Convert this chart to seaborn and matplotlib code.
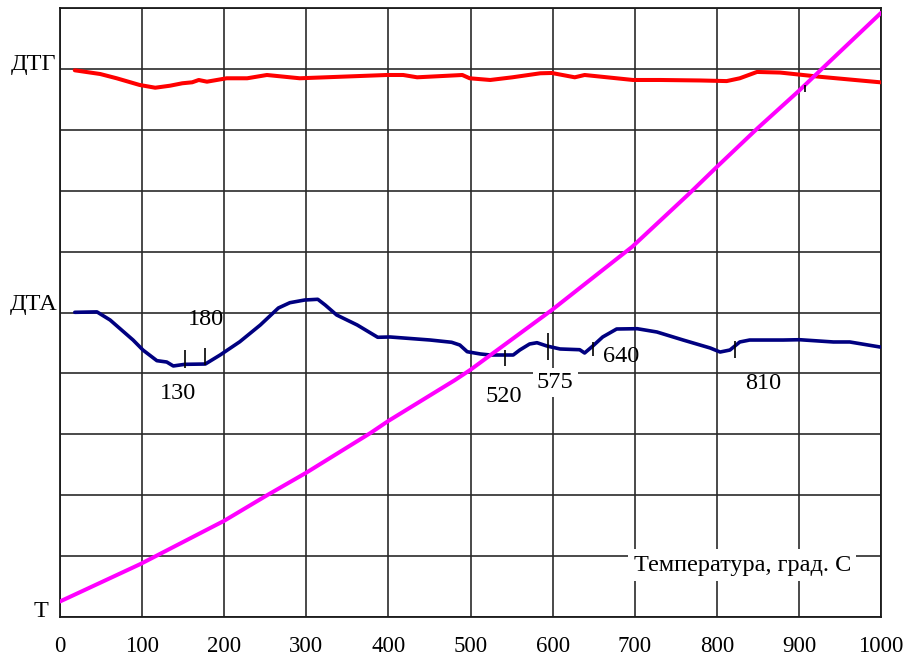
import matplotlib
matplotlib.use("Agg")
import matplotlib.pyplot as plt
import matplotlib.transforms as mtransforms
import seaborn as sns
import pandas as pd

# ---- data ----
dtg_x = [18, 49, 69, 97, 116, 134, 149, 161, 169, 179, 203, 228, 252, 292, 398, 418,
         435, 490, 499, 524, 551, 585, 599, 627, 639, 698, 731, 780, 812, 828, 849,
         877, 926, 999]
dtg_y = [8.977, 8.916, 8.846, 8.736, 8.691, 8.724, 8.764, 8.78, 8.818, 8.79, 8.846,
         8.846, 8.90, 8.846, 8.90, 8.90, 8.862, 8.90, 8.846, 8.818, 8.862, 8.928,
         8.933, 8.862, 8.90, 8.818, 8.818, 8.81, 8.80, 8.846, 8.95, 8.94, 8.87, 8.78]

dta_x = [18, 45, 61, 89, 101, 118, 130, 138, 152, 177, 195, 219, 244, 266, 280, 298,
         314, 323, 337, 362, 387, 402, 451, 477, 487, 496, 512, 524, 552, 560, 572,
         581, 593, 609, 633, 639, 649, 661, 678, 703, 727, 759, 792, 804, 816, 828,
         840, 881, 901, 942, 962, 999]
dta_y = [5.003, 5.01, 4.877, 4.548, 4.384, 4.209, 4.187, 4.122, 4.149, 4.154, 4.302,
         4.52, 4.795, 5.074, 5.161, 5.205, 5.217, 5.123, 4.959, 4.795, 4.593, 4.598,
         4.548, 4.511, 4.466, 4.356, 4.319, 4.302, 4.302, 4.384, 4.483, 4.504, 4.45,
         4.401, 4.389, 4.335, 4.45, 4.598, 4.729, 4.734, 4.68, 4.548, 4.417, 4.351,
         4.384, 4.516, 4.548, 4.548, 4.553, 4.516, 4.516, 4.433]

t_x = [0, 98, 200, 251, 300, 378, 400, 481, 500, 599, 697, 767, 800, 850, 900, 928, 1000]
t_y = [0.255, 0.87, 1.58, 1.99, 2.37, 3.02, 3.22, 3.89, 4.06, 5.04, 6.08, 6.96, 7.39,
       8.03, 8.64, 9.0, 9.92]

# peak marks on the DTA curve
mark_x = [152, 177, 542, 594, 649, 822]
mark_lo = [4.089, 4.138, 4.122, 4.22, 4.286, 4.25]
mark_hi = [4.384, 4.417, 4.384, 4.663, 4.516, 4.53]

peak_labels = ["130", "180", "520", "575", "640", "810"]
peak_lx = [144, 178, 541, 603, 683, 856]
peak_ly = [3.67, 4.877, 3.62, 3.85, 4.28, 3.83]

x_ticks = [0, 100, 200, 300, 400, 500, 600, 700, 800, 900, 1000]
x_ticklabels = ["0", "100", "200", "300", "400", "500", "600", "700", "800", "900", "1000"]
y_grid = list(range(0, 11))

curve_labels = ["ДТГ", "ДТА", "Т"]
curve_label_y = [8.98, 5.04, 0.0]
axis_title = "Температура, град. С"

# ---- style ----
sns.set_style("white")
plt.rcParams["font.family"] = ["Liberation Serif", "DejaVu Serif"]
plt.rcParams["font.size"] = 17
plt.rcParams["text.color"] = "black"
plt.rcParams["xtick.color"] = "black"
plt.rcParams["xtick.labelcolor"] = "black"

fig = plt.figure(figsize=(9.09, 6.59), dpi=100)
ax = fig.add_axes([60 / 909, 1 - 617 / 659, 821 / 909, 609 / 659])

df_dtg = pd.DataFrame({"x": dtg_x, "y": dtg_y})
df_dta = pd.DataFrame({"x": dta_x, "y": dta_y})
df_t = pd.DataFrame({"x": t_x, "y": t_y})

sns.lineplot(data=df_dtg, x="x", y="y", ax=ax, color="#ff0000", lw=2.9, sort=False, zorder=3)
sns.lineplot(data=df_dta, x="x", y="y", ax=ax, color="#000080", lw=2.6, sort=False, zorder=3)
sns.lineplot(data=df_t, x="x", y="y", ax=ax, color="#ff00ff", lw=2.9, sort=False, zorder=4)

ax.vlines(mark_x, mark_lo, mark_hi, colors="black", lw=1.2, zorder=5)
ax.vlines([907], [8.62], [8.74], colors="black", lw=1.2, zorder=5)

ax.set_xlim(0, 1000)
ax.set_ylim(0, 10)
ax.set_xticks(x_ticks)
ax.set_xticklabels(x_ticklabels, fontsize=16.5, color="black")
ax.set_yticks(y_grid)
ax.set_yticklabels([])
ax.tick_params(axis="both", length=0)
ax.tick_params(axis="x", pad=14)
ax.set_xlabel("")
ax.set_ylabel("")
ax.grid(True, color="#2a2a2a", lw=1.2, zorder=1)
ax.set_axisbelow(True)
for sp in ax.spines.values():
    sp.set_color("#1a1a1a")
    sp.set_linewidth(1.3)

for lab, lx, ly in zip(peak_labels, peak_lx, peak_ly):
    kw = {}
    if lab == "575":
        kw["bbox"] = dict(facecolor="white", edgecolor="none", pad=3)
    ax.text(lx, ly, lab, ha="center", va="center", fontsize=17.5, zorder=6, **kw)

ax.text(831, 0.85, axis_title, ha="center", va="center", fontsize=17.5, zorder=6,
        bbox=dict(facecolor="white", edgecolor="none", pad=4))

trans = mtransforms.blended_transform_factory(ax.transAxes, ax.transData)
label_x = [-0.004, -0.003, -0.0146]
for lab, lx, ly in zip(curve_labels, label_x, curve_label_y):
    ax.text(lx, ly, lab, ha="right", va="baseline", fontsize=17.5, transform=trans)

fig.savefig("out.png", dpi=100)
